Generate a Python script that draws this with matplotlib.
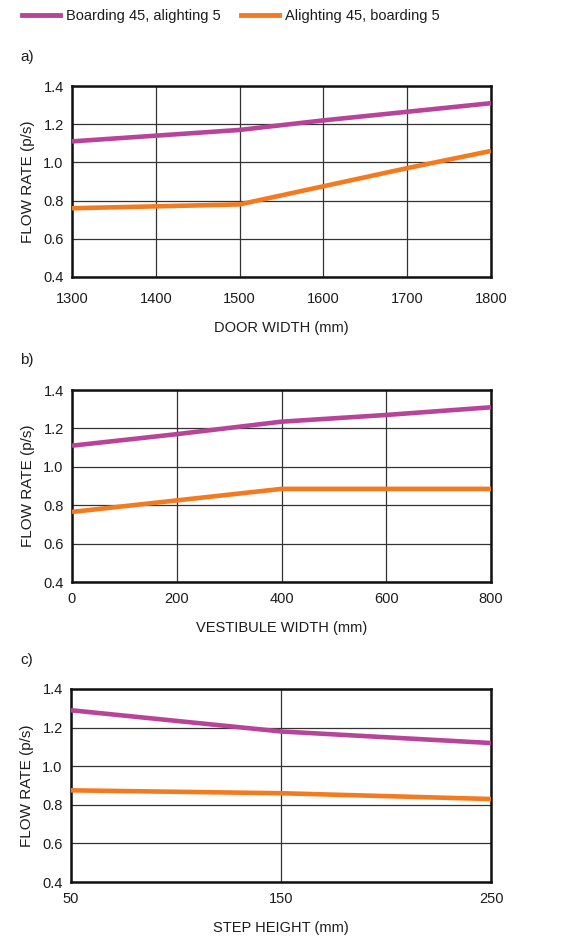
import matplotlib.pyplot as plt
from matplotlib.lines import Line2D

plt.rcParams['font.family'] = ['Liberation Sans', 'DejaVu Sans']
plt.rcParams['font.size'] = 10

PURPLE = "#b8449a"
ORANGE = "#f47a20"
TXT = "#1c1c1c"

# a) door width
door_width = [1300, 1400, 1500, 1600, 1700, 1800]
door_boarding = [1.11, 1.14, 1.17, 1.22, 1.265, 1.31]
door_alighting = [0.76, 0.77, 0.78, 0.875, 0.97, 1.06]

# b) vestibule width
vest_width = [0, 200, 400, 600, 800]
vest_boarding = [1.11, 1.17, 1.235, 1.27, 1.31]
vest_alighting = [0.765, 0.825, 0.885, 0.885, 0.885]

# c) step height
step_height = [50, 150, 250]
step_boarding = [1.29, 1.18, 1.12]
step_alighting = [0.875, 0.86, 0.83]

yticks = [0.4, 0.6, 0.8, 1.0, 1.2, 1.4]

panels = [
    ("a)", door_width, door_boarding, door_alighting, door_width, "DOOR WIDTH (mm)"),
    ("b)", vest_width, vest_boarding, vest_alighting, [0, 200, 400, 600, 800], "VESTIBULE WIDTH (mm)"),
    ("c)", step_height, step_boarding, step_alighting, [50, 150, 250], "STEP HEIGHT (mm)"),
]

W, H = 572, 936
fig = plt.figure(figsize=(W / 100, H / 100), dpi=100)

# axes boxes in pixels: (left, top, right, bottom)
boxes = [(72, 86, 491, 277), (72, 390, 491, 582), (71, 689, 491, 882)]
label_y = [57, 360, 660]
xpads = [10.5, 7, 7]

for (lab, x, b, a, xt, xlabel), (l, t, r, bt), ly, xp in zip(panels, boxes, label_y, xpads):
    ax = fig.add_axes([l / W, 1 - bt / H, (r - l) / W, (bt - t) / H])
    ax.plot(x, b, color=PURPLE, lw=3.3, solid_capstyle="butt", zorder=3)
    ax.plot(x, a, color=ORANGE, lw=3.3, solid_capstyle="butt", zorder=3)
    ax.set_xlim(xt[0], xt[-1])
    ax.set_ylim(0.4, 1.4)
    ax.set_xticks(xt)
    ax.set_yticks(yticks)
    ax.set_yticklabels([f"{v:.1f}" for v in yticks])
    ax.grid(True, color="#333333", lw=0.9)
    ax.set_axisbelow(True)
    for s in ax.spines.values():
        s.set_linewidth(1.8)
        s.set_color("#111111")
    ax.tick_params(length=0, labelsize=10.5, colors=TXT)
    ax.tick_params(axis="x", pad=xp)
    ax.tick_params(axis="y", pad=6)
    ax.set_xlabel(xlabel, fontsize=10.5, color=TXT, labelpad=11)
    ax.set_ylabel("FLOW RATE (p/s)", fontsize=11, color=TXT, labelpad=6)
    fig.text(20 / W, 1 - ly / H, lab, fontsize=11, color=TXT, va="center")

handles = [Line2D([], [], color=PURPLE, lw=3.5), Line2D([], [], color=ORANGE, lw=3.5)]
fig.legend(handles, ["Boarding 45, alighting 5", "Alighting 45, boarding 5"],
           loc="upper left", bbox_to_anchor=(9 / W, 1 + 4 / H), ncol=2, frameon=False,
           fontsize=10.5, handlelength=2.6, handletextpad=0.4, columnspacing=1.4,
           labelcolor=TXT)

fig.savefig("out.png", dpi=100)
